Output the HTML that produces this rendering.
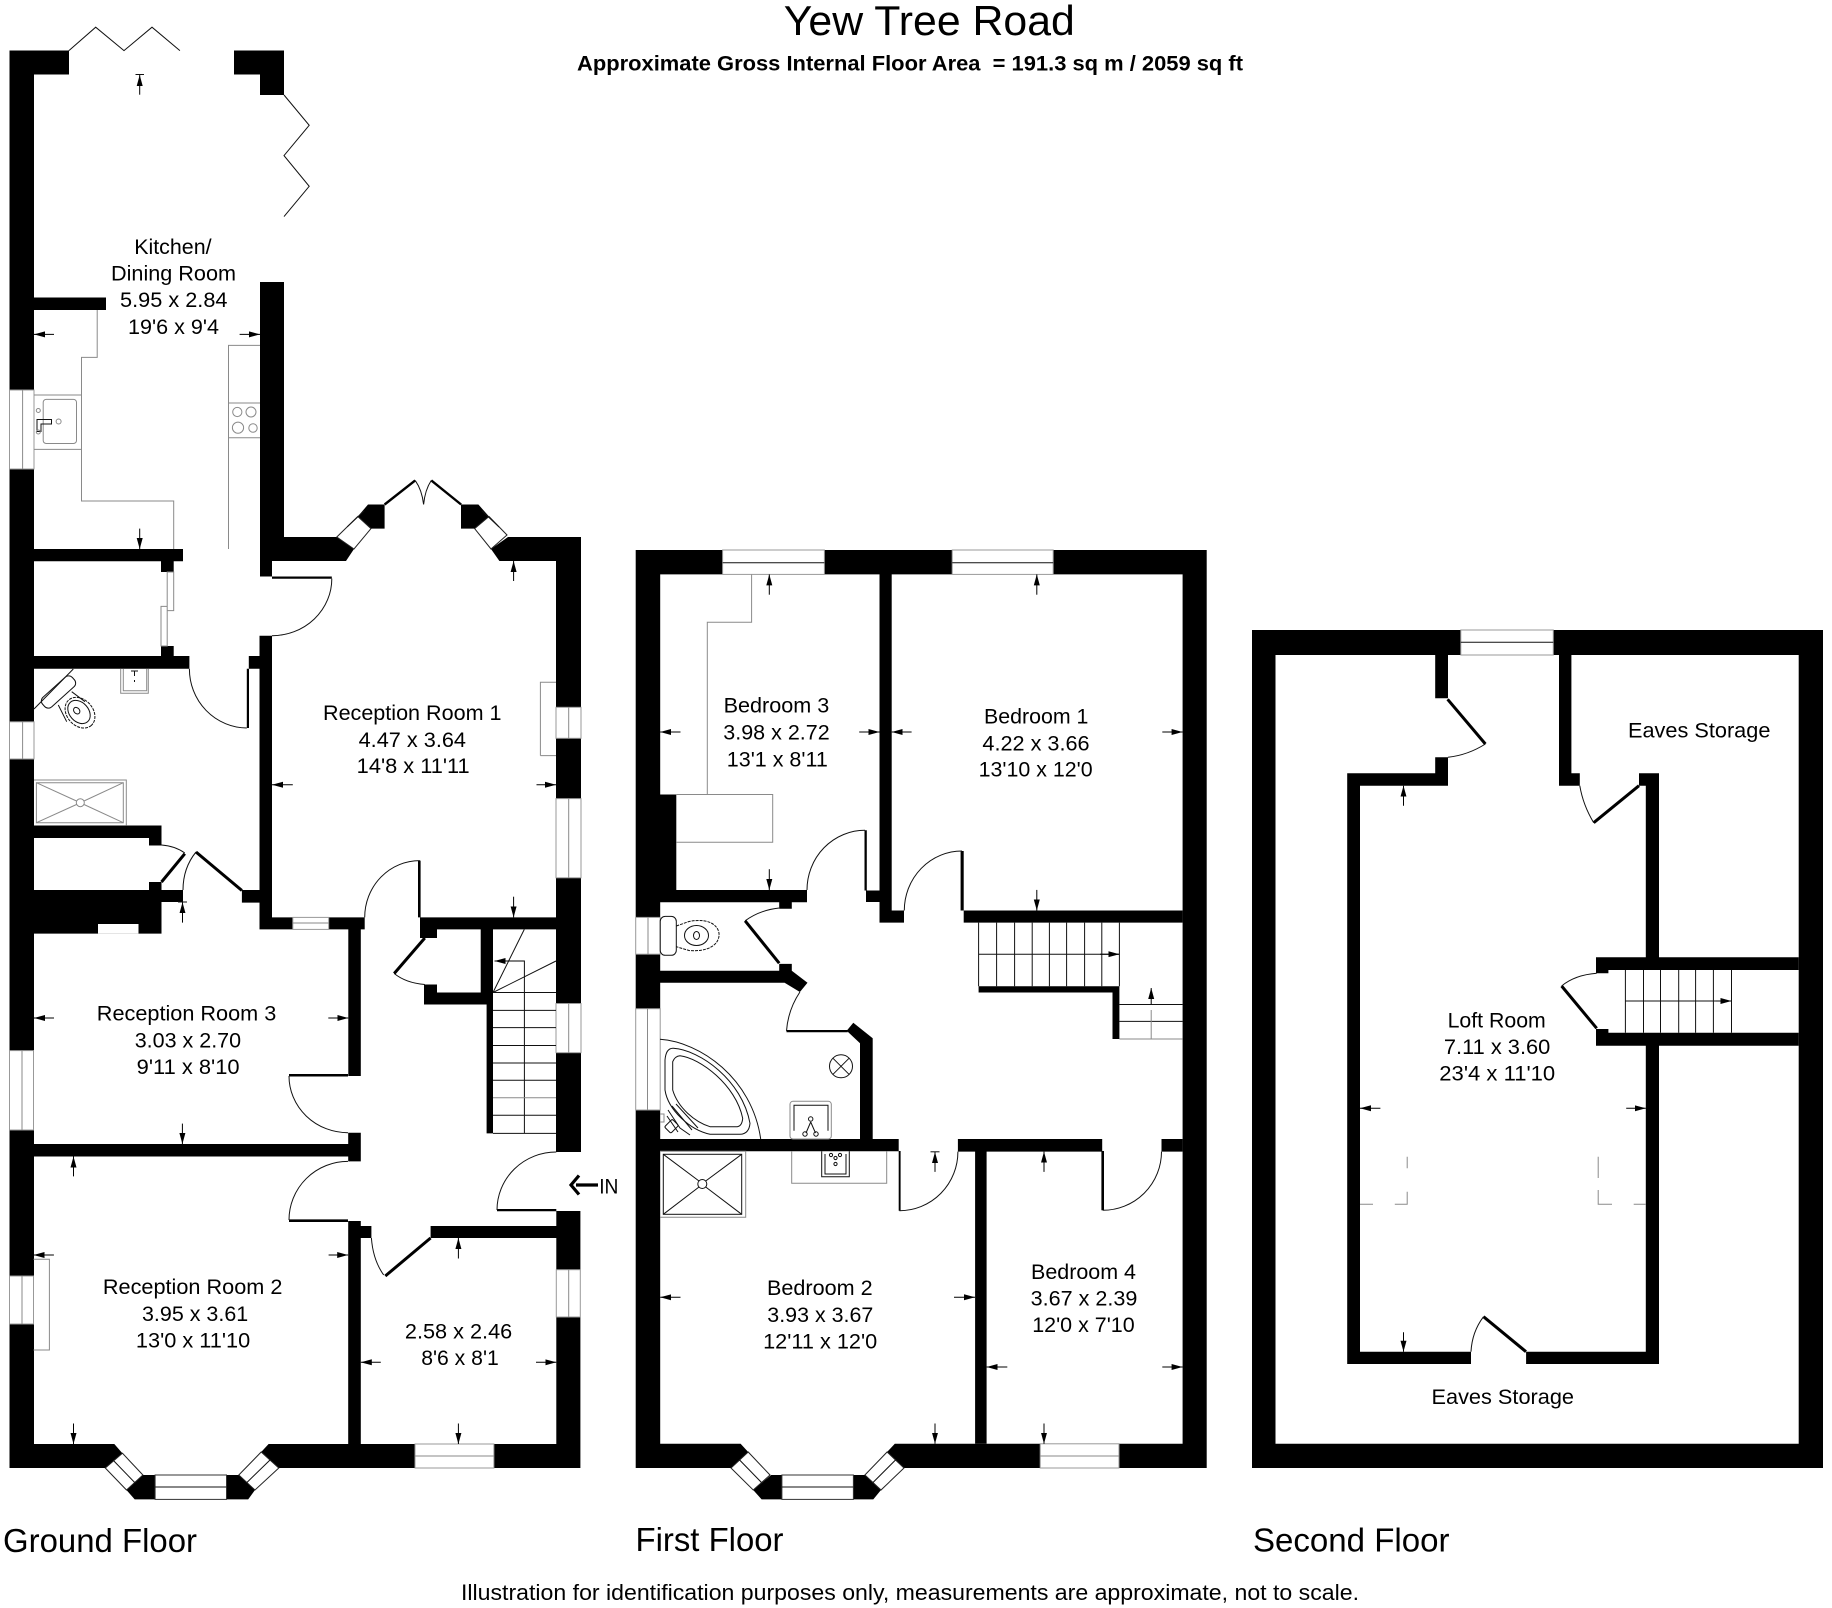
<!DOCTYPE html>
<html><head><meta charset="utf-8"><title>Yew Tree Road</title>
<style>
html,body{margin:0;padding:0;background:#fff}
svg{display:block}
text{font-family:"Liberation Sans",sans-serif;fill:#000;white-space:pre}
.r text{font-size:21.5px}
.t{fill:none;stroke:#111;stroke-width:1}
.g{fill:none;stroke:#8a8a8a;stroke-width:1}
.l{fill:none;stroke:#000;stroke-width:3}
.w{fill:#fff;stroke:#999;stroke-width:1}
.a{stroke:#000;stroke-width:1;fill:none;marker-end:url(#h)}
</style></head><body>
<svg xmlns="http://www.w3.org/2000/svg" width="1832" height="1608" viewBox="0 0 1832 1608">
<defs><marker id="h" markerUnits="userSpaceOnUse" markerWidth="11" markerHeight="7" refX="11" refY="3.5" orient="auto"><path d="M0,0.5L11,3.5L0,6.5Z" fill="#000"/></marker></defs>
<rect width="1832" height="1608" fill="#fff"/>

<!-- GROUND FLOOR WALLS -->
<path fill="#000" d="
M9.5 50.5H69V74.5H34V1444H114.3L122.4 1453.2L105.3 1468H9.5Z
M234 50.5H284V95H260V74.5H234Z
M260 282H284V537H337L354 549L346 561H272V576.5H260Z
M34 297.5H106V310H34Z
M34 549H183V561.3H173.7V572H161V561.3H34Z
M161 646H173.7V656H189.4V668.8H34V656H161Z
M259.5 635.7H272V917.4H292.8V929.4H259.5V902.6H241.9V890H259.5V668.8H248.8V656H259.5Z
M34 825.5H161.5V845.5H149V838H34Z
M149 882H161.5V890H183V902H161.5V933.6H34V890H149Z
M328.7 917.4H364.7V929.4H360.8V1076H348.3V929.4H328.7Z
M420 917.4H556V929.4H493V1133.4H486.6V1004.5H424V984.5H437V992.5H480.7V929.4H437V938H420Z
M33.5 1144H348.2V1132.7H360.8V1161.4H348.2V1156.5H33.5Z
M348.2 1221H360.8V1226H371.4V1238H360.8V1444H415V1468H278.8L261.2 1452L268.6 1444H348.2Z
M430.6 1226H556.3V1238H430.6Z
M493.9 1444H556.3V1211H580.4V1468H493.9Z
M508 537H581V1152H556V561H499.4L491 549Z
"/>
<!-- bay piers ground / top -->
<path fill="#000" d="M142.9 1475H155.1V1499.4H134.7L126.5 1490Z M226.5 1475H238.8L255 1490L248.2 1499.4H226.5Z
M368 504.5H384.6V528.6H371L357.8 516.5Z M461 504.5H478.4L489 516.5L474.6 528.6H461Z"/>
<!-- windows ground -->
<g class="w">
<rect x="9.5" y="390" width="24.5" height="79"/>
<rect x="9.5" y="721.8" width="24.5" height="37.2"/>
<rect x="9.5" y="1050.6" width="24" height="79.4"/>
<rect x="9.5" y="1276" width="24" height="48"/>
<rect x="556" y="707.3" width="25" height="31"/>
<rect x="556" y="798.6" width="25" height="79.2"/>
<rect x="556" y="1003.5" width="25" height="49.2"/>
<rect x="556.3" y="1269.7" width="24" height="47.3"/>
<rect x="292.8" y="917.4" width="35.9" height="12"/>
<rect x="98" y="924" width="40.5" height="9.6" stroke="none"/>
<rect x="415" y="1444" width="78.9" height="24"/>
<rect x="155.1" y="1475" width="71.4" height="24.4" stroke="#333"/>
<path d="M122.4 1453.2L105.3 1468L126.5 1490L142.9 1475Z" stroke="#222"/>
<path d="M261.2 1452L278.8 1468L255 1490L238.8 1475Z" stroke="#222"/>
<path d="M336.8 537L357.8 516.5L371 528.6L354 549Z" stroke="#222"/>
<path d="M489 516.5L507 535L491 549L474.6 528.6Z" stroke="#222"/>
</g>
<g class="g">
<path d="M22.6 390V469M22.6 721.8V759M22 1050.6V1130M22 1276V1324M568.7 707.3V738.3M568.7 798.6V877.8M568.7 1003.5V1052.7M568.7 1269.7V1317M292.8 923H328.7M415 1456H493.9"/>
</g>
<path class="t" d="M155.1 1487H226.5M113.9 1461L134.7 1482.5M270 1460L246.9 1482.5M347.3 526.8L364.4 510.6M481.8 510.6L499 527"/>
<!-- bifolds & french doors -->
<path class="t" d="M68.9 50.6L95.7 27.2L124 50.6L152 27.2L179.9 50.6"/>
<path class="t" d="M284 95L309.2 125.3L284 155.6L309.2 186.3L284 216.6"/>
<path d="M384.6 504.5L415.2 480.4M431.3 480.4L461.1 504.5" fill="none" stroke="#000" stroke-width="2.4"/>
<path class="t" d="M415.2 480.4Q422 490 423.6 504.5M431.3 480.4Q425 490 423.6 504.5"/>
<!-- doors ground -->
<path fill="#000" d="M272 576.5H331.8V578.8H272Z M246.8 668.8H249V728H246.8Z M418 860.6H420.6V917.4H418Z M289 1074H348V1076.5H289Z M289 1219.4H348V1222H289Z M497 1209H556.3V1211.2H497Z"/>
<path class="t" d="M331.8 578.6A59.8 57 0 0 1 272 635.7M246.8 728A58 59 0 0 1 189.4 668.8M419.8 860.6A55 56.8 0 0 0 364.7 917.4M289 1076A59 56.7 0 0 0 348 1132.7M348 1161.4A59 58.6 0 0 0 289 1220M556.3 1152A59.3 58 0 0 0 497 1210M371.4 1238Q373 1260 383.7 1275M161.5 845Q175 846 184.8 853M183 890Q183 868 196 852M394.2 973.5Q406 983 424.8 984.5"/>
<path class="l" d="M385.3 1276L430.6 1238M184.8 853.7L161.5 882M196 852L241.9 890.5M424.8 938L394.2 973.5"/>
<!-- sliding door -->
<path class="g" d="M167.2 572H173.7V610.6H167.2ZM161 606.4H167.2V646H161Z" stroke="#555"/>
<!-- stairs ground -->
<path class="t" d="M493 992.5H556M493 1010.4H556M493 1027.6H556M493 1045.5H556M493 1063H556M493 1080.3H556M493 1115.2H556M493 1133.4H556M524.4 960.5V1133.4M493 992.5L524.3 929.4M493 992.5L556 961"/>
<path class="g" d="M493 1097.7H556"/>
<path class="a" d="M524.3 961H494.5"/>
<!-- kitchen fittings -->
<path class="g" stroke="#555" d="M97.2 310V357.4H81.5V501H173.7V549M34 395H81.5M34 449.4H81.5M228.5 549V345.4H260M228.5 403H260M228.5 437.7H260"/>
<rect class="g" x="43.2" y="399.4" width="33.3" height="44.1" rx="3"/>
<path class="t" d="M37 419.5H51.5V424H41V431.5H37Z"/>
<g class="g"><circle cx="58.6" cy="421.5" r="2.5"/><circle cx="38.3" cy="410.5" r="2"/><circle cx="38.3" cy="432" r="2"/>
<circle cx="237.3" cy="412" r="4.6"/><circle cx="251" cy="412" r="5"/><circle cx="238" cy="427.7" r="5.6"/><circle cx="253" cy="428" r="4.2"/></g>
<!-- shower-room fittings -->
<path class="t" d="M34 709L73.3 669"/>
<rect class="t" x="38.5" y="685.5" width="40" height="13" rx="5" transform="rotate(-42 58.5 692)"/>
<ellipse class="t" cx="80" cy="712.7" rx="17" ry="13" transform="rotate(48 80 712.7)" stroke-dasharray="3 1"/>
<ellipse class="t" cx="79" cy="712" rx="13" ry="9.5" transform="rotate(48 79 712)"/>
<ellipse class="t" cx="76.7" cy="710.7" rx="3.6" ry="2.8" transform="rotate(48 76.7 710.7)"/>
<path class="t" d="M58.3 705L66.7 721.7M71.7 691.7L85 701.7"/>
<path class="g" stroke="#555" d="M120.7 669V693.3H148.3V669M123.3 669V690.7H146.7V669"/>
<path class="t" d="M131 671H138M134.5 671V676M134.5 680V682"/>
<path class="g" stroke="#555" d="M36.4 782.7H123.3V822.7H36.4ZM34 780H126.3V825.7"/>
<path class="g" stroke="#444" d="M36.4 782.7L76.5 801M84 801L123.3 782.7M36.4 822.7L76.5 804.5M84 804.5L123.3 822.7"/>
<circle class="g" stroke="#444" cx="80.3" cy="802.7" r="4"/>
<path class="g" stroke="#555" d="M540.4 755.6V682.2H556M540.4 755.6H556M33.5 1259.2H49.4V1350H33.5"/>

<!-- FIRST FLOOR WALLS -->
<path fill="#000" d="
M635.7 550H1206.7V1468H904L887.1 1452L894.8 1443.8H1182.6V574.4H660.2V1443.8H740.6L748.2 1452L731 1468H635.7Z"/>
<path fill="#000" d="
M771.2 1475H781.9V1499.4H761.6L753.2 1490Z M853.4 1475H864.9L881 1490L873.3 1499.4H853.4Z
M879.5 574H891.7V910.5H904V922.6H879.5V902H866V890.5H879.5Z
M660 794.5H676.3V890H807V902.2H791.8V908.8H779.2V902.2H660Z
M963.7 910.5H1182.6V922.6H963.7Z
M660 970.8H779.2V963.9H791.8V970.8L807.5 982.8L799.9 992L784.6 982.8H660Z
M846.7 1030.7L853.3 1022.7L872.7 1038.3V1139H898.7V1151.3H660V1139H860V1043.3Z
M957.9 1139H1102.2V1151.6H986.6V1443.8H975.1V1151.6H957.9Z
M1161.5 1139H1182.6V1151.6H1161.5Z
M978.6 986.3H1119.4V1039H1112.5V992.5H978.6Z"/>
<g class="w">
<rect x="722.6" y="550" width="101.8" height="24.4"/>
<rect x="952.2" y="550" width="101" height="24.4"/>
<rect x="635.7" y="917.4" width="24.5" height="36.8"/>
<rect x="635.7" y="1008.7" width="24.5" height="101.3"/>
<rect x="1040.2" y="1443.8" width="78.8" height="24.2"/>
<rect x="781.9" y="1475" width="71.5" height="24.4" stroke="#333"/>
<path d="M748.2 1452L731 1468L753.2 1490L770 1475Z" stroke="#222"/>
<path d="M887.1 1452L904 1468L881 1490L864.9 1475Z" stroke="#222"/>
</g>
<path class="t" d="M722.6 562.7H824.4M952.2 562.7H1053.2M781.9 1487H853.4M739.6 1460L761.5 1482.5M895.5 1460L873 1482.5"/>
<path class="g" d="M648 917.4V954.2M647.5 1008.7V1110M1040.2 1456H1119"/>
<!-- first floor fittings -->
<path class="g" stroke="#555" d="M751.6 574.4V622.3H707.3V794.5M676.3 794.5H772.7V842.3H676.3"/>
<path fill="#000" d="M864.5 830.3H866.8V890.5H864.5Z M960.6 851H963.7V910.5H960.6Z M786.5 1030H847.7V1032.2H786.5Z M898.7 1151H900.6V1210.7H898.7Z M1101.4 1151H1104V1210.3H1101.4Z"/>
<path class="t" d="M865 830.3A58 59.7 0 0 0 807 890M962 851A57.7 59.5 0 0 0 904.3 910.5M899.5 1210.7A58.4 59 0 0 0 957.9 1151.6M1102.7 1210.3A58.8 58.7 0 0 0 1161.5 1151.6M745.1 920.8Q760 910 779.2 908M799.9 992Q788 1010 786.5 1031"/>
<path class="l" d="M745.1 920.8L779.2 963.2"/>
<!-- first floor stairs -->
<path class="t" d="M978.6 922.6V986.3M996.6 922.6V986.3M1014.6 922.6V986.3M1032.2 922.6V986.3M1049.4 922.6V986.3M1066.6 922.6V986.3M1084.6 922.6V986.3M1101.8 922.6V986.3M1119.4 922.6V986.3M978.6 954.2H1119.4"/>
<path class="a" d="M1100 954.2H1119.4"/>
<path class="t" d="M1119.4 1004.5H1182.6M1119.4 1021.4H1182.6"/>
<path class="g" d="M1119.4 1039H1182.6M1151.2 1039V1010"/>
<path class="a" d="M1151.2 1004V988"/>
<!-- WC & bath -->
<rect class="t" x="660.2" y="916.4" width="16.1" height="38.9" rx="5"/>
<path class="t" stroke-dasharray="3 1" d="M676.3 926L689 921.5C712 917 720 928 719 936C718 945 708 952 689 950.5L676.3 946.7"/>
<ellipse class="t" cx="696.5" cy="935.5" rx="12" ry="10"/>
<ellipse class="t" cx="696.5" cy="935.5" rx="3" ry="4"/>
<path class="t" d="M660 1039.3C700 1042 752 1078 760.7 1139"/>
<path class="t" d="M665 1060Q666 1048 673.3 1048.3C700 1050 742 1080 750 1123.3Q749 1134 740 1134.3H710C690 1130 668 1110 665 1090Z"/>
<path class="t" d="M672.7 1061.7Q675 1056 680 1055.7C700 1058 736 1085 742.7 1118.3Q742 1126 737.3 1126.7H710C695 1122 678 1108 672.7 1090Z"/>
<path class="t" d="M668 1110L680 1128L690 1135M667 1116L678 1132M672 1106L692 1130M676 1104L698 1128"/>
<rect class="t" x="665.7" y="1122" width="11" height="9" transform="rotate(-45 671 1126)" rx="1.5"/>
<path class="g" d="M660 1114H664V1122H660"/>
<circle class="t" cx="841" cy="1066.3" r="11.5"/><path class="t" d="M833 1058.3L849 1074.3M849 1058.3L833 1074.3"/>
<rect class="g" stroke="#555" x="790" y="1101.3" width="41.3" height="37.7" rx="3"/>
<path class="t" d="M794 1130.7V1105.3H828V1130.7M810.7 1122L806 1133M810.7 1122L815.5 1133"/>
<g class="t"><circle cx="810.7" cy="1119" r="2.2"/><circle cx="805" cy="1134" r="2.2"/><circle cx="816" cy="1134" r="2.2"/></g>
<path class="g" stroke="#555" d="M660 1151.3H745.7V1217.3H660M791.7 1151.3V1183.3H886.7V1151.3"/>
<rect class="t" x="663.3" y="1154.3" width="78.4" height="60"/>
<path class="t" d="M663.3 1154.3L699 1181M705.7 1181L741.7 1154.3M663.3 1214.3L699 1187M705.7 1187L741.7 1214.3"/>
<circle class="t" cx="702.3" cy="1184" r="4.5"/>
<path class="t" d="M821.7 1151.3V1176.7H849.3V1151.3M825 1154V1174H846V1154"/>
<g class="t"><circle cx="835.5" cy="1164" r="1.6"/><circle cx="831" cy="1155" r="1.6"/><circle cx="840" cy="1155" r="1.6"/><circle cx="835.5" cy="1158" r="1.6"/></g>

<!-- SECOND FLOOR WALLS -->
<path fill="#000" fill-rule="evenodd" d="M1252 630H1823V1468H1252Z M1275.5 655V1443.7H1798.7V655Z"/>
<path fill="#000" d="
M1435.2 655H1448V698.3H1435.2Z
M1435.2 757.3H1448V785.7H1360V1351.7H1471V1364H1347.2V773.3H1435.2Z
M1526.1 1351.7H1645.8V1045H1659V1364H1526.1Z
M1639 773.3H1659V957.3H1645.8V785.7H1639Z
M1559 655H1571.4V773.3H1579.8V785.7H1559Z
M1596 957.3H1798.7V970H1608.4V973.3H1596Z
M1596 1029H1608.4V1032.7H1798.7V1045.7H1596Z"/>
<rect class="w" x="1460.8" y="630" width="92.5" height="25"/>
<path class="t" d="M1460.8 642.3H1553.3"/>
<path class="l" d="M1447.6 699.3L1485.4 744M1639 785.7L1593.7 822.7M1596.7 1028.3L1561.6 986M1483.5 1316.7L1526 1351.7"/>
<path class="t" d="M1485.4 744Q1468 755 1448 757.3M1593.7 822.7Q1583 805 1579.8 785.7M1561.6 986Q1575 975 1596.7 973.3M1483.5 1316.7Q1472 1332 1471 1351.7"/>
<path class="t" d="M1625.4 970V1032.7M1643.5 970V1032.7M1660.5 970V1032.7M1678.7 970V1032.7M1695.6 970V1032.7M1713.4 970V1032.7M1731.5 970V1032.7M1625.4 1001H1731.5"/>
<path class="a" d="M1716 1001H1731.5"/>
<path class="g" d="M1407.2 1156.7V1168.3M1407.2 1191.7V1204.3H1394.8M1360 1204.3H1373M1598.2 1156.7V1178M1598.2 1190V1204.3H1612M1633.7 1204.3H1645.8"/>

<!-- DIMENSION ARROWS -->
<path class="a" d="M139.7 94.7V75"/><path class="t" d="M135.5 74.5H144"/>
<path class="a" d="M54 334.4H34"/><path class="a" d="M239.6 334.4H260"/>
<path class="a" d="M139.7 528.6V549"/>
<path class="a" d="M292.8 784.8H272"/><path class="a" d="M536.5 784.8H556"/>
<path class="a" d="M513.6 581V561"/><path class="a" d="M513.6 896.7V917.4"/>
<path class="a" d="M182.5 922.6V902.2"/><path class="t" d="M178 902H187"/>
<path class="a" d="M54 1018H34"/><path class="a" d="M328.3 1018H348.3"/>
<path class="a" d="M182.4 1123.6V1144"/>
<path class="a" d="M73.5 1176.4V1156.5"/>
<path class="a" d="M53.9 1255H33.5"/><path class="a" d="M328.6 1255H348.2"/>
<path class="a" d="M73.5 1423.5V1444"/>
<path class="a" d="M380.8 1362.3H360.8"/><path class="a" d="M536 1362.3H556.3"/>
<path class="a" d="M458.4 1258.5V1238"/><path class="a" d="M458.4 1423.5V1444"/>
<path d="M598 1185H576M579 1175.5L571 1185L579 1194.5" fill="none" stroke="#000" stroke-width="3.2"/>
<path class="a" d="M769.3 594.7V574.4"/><path class="a" d="M680.5 732H660.2"/><path class="a" d="M859.2 732H879.5"/><path class="a" d="M769.3 869.2V890"/>
<path class="a" d="M1036.8 594.7V574.4"/><path class="a" d="M911.6 732H891.7"/><path class="a" d="M1162.3 732H1182.6"/><path class="a" d="M1036.8 889.9V910.5"/>
<path class="a" d="M935 1171.9V1152"/><path class="t" d="M930.5 1151.8H939.5"/>
<path class="a" d="M1044 1171.9V1151.6"/>
<path class="a" d="M680.5 1297.3H660.2"/><path class="a" d="M954 1297.3H975"/><path class="a" d="M935 1423.5V1443.8"/>
<path class="a" d="M1007.3 1367H986.6"/><path class="a" d="M1162.3 1367H1182.6"/><path class="a" d="M1044 1423.5V1443.8"/>
<path class="a" d="M1403.5 805.7V785.7"/><path class="a" d="M1380.4 1108.3H1360"/><path class="a" d="M1626.2 1108.3H1645.8"/><path class="a" d="M1403.5 1332.3V1351.7"/>

<!-- TEXT -->
<text x="783.8" y="35" font-size="42" textLength="291" lengthAdjust="spacingAndGlyphs">Yew Tree Road</text>
<text x="577" y="70.5" font-size="21" font-weight="bold" textLength="666" lengthAdjust="spacingAndGlyphs">Approximate Gross Internal Floor Area  = 191.3 sq m / 2059 sq ft</text>
<g class="r">
<text x="134.2" y="254" textLength="77.4" lengthAdjust="spacingAndGlyphs">Kitchen/</text>
<text x="111" y="280.5" textLength="125" lengthAdjust="spacingAndGlyphs">Dining Room</text>
<text x="120" y="307" textLength="107.5" lengthAdjust="spacingAndGlyphs">5.95 x 2.84</text>
<text x="128" y="334" textLength="91" lengthAdjust="spacingAndGlyphs">19'6 x 9'4</text>
<text x="323" y="720" textLength="178.5" lengthAdjust="spacingAndGlyphs">Reception Room 1</text>
<text x="358.6" y="747" textLength="107.4" lengthAdjust="spacingAndGlyphs">4.47 x 3.64</text>
<text x="356.7" y="773" textLength="113" lengthAdjust="spacingAndGlyphs">14'8 x 11'11</text>
<text x="96.8" y="1020.7" textLength="179.5" lengthAdjust="spacingAndGlyphs">Reception Room 3</text>
<text x="134.7" y="1047.6" textLength="106.4" lengthAdjust="spacingAndGlyphs">3.03 x 2.70</text>
<text x="136.7" y="1074" textLength="102.9" lengthAdjust="spacingAndGlyphs">9'11 x 8'10</text>
<text x="102.9" y="1294.2" textLength="179.5" lengthAdjust="spacingAndGlyphs">Reception Room 2</text>
<text x="142" y="1321" textLength="106.2" lengthAdjust="spacingAndGlyphs">3.95 x 3.61</text>
<text x="135.9" y="1347.3" textLength="114.3" lengthAdjust="spacingAndGlyphs">13'0 x 11'10</text>
<text x="404.9" y="1338.6" textLength="107.3" lengthAdjust="spacingAndGlyphs">2.58 x 2.46</text>
<text x="421.2" y="1365" textLength="77.6" lengthAdjust="spacingAndGlyphs">8'6 x 8'1</text>
<text x="599.2" y="1193.5" textLength="19.2" lengthAdjust="spacingAndGlyphs">IN</text>
<text x="723.6" y="712.5" textLength="105.7" lengthAdjust="spacingAndGlyphs">Bedroom 3</text>
<text x="723.3" y="739.4" textLength="106.4" lengthAdjust="spacingAndGlyphs">3.98 x 2.72</text>
<text x="726.8" y="766.6" textLength="101" lengthAdjust="spacingAndGlyphs">13'1 x 8'11</text>
<text x="984" y="723.5" textLength="104.4" lengthAdjust="spacingAndGlyphs">Bedroom 1</text>
<text x="982.4" y="750.4" textLength="107.2" lengthAdjust="spacingAndGlyphs">4.22 x 3.66</text>
<text x="978.6" y="776.6" textLength="114" lengthAdjust="spacingAndGlyphs">13'10 x 12'0</text>
<text x="767" y="1294.9" textLength="105.6" lengthAdjust="spacingAndGlyphs">Bedroom 2</text>
<text x="767.3" y="1322.1" textLength="106" lengthAdjust="spacingAndGlyphs">3.93 x 3.67</text>
<text x="763.1" y="1348.4" textLength="114.1" lengthAdjust="spacingAndGlyphs">12'11 x 12'0</text>
<text x="1031" y="1278.8" textLength="105" lengthAdjust="spacingAndGlyphs">Bedroom 4</text>
<text x="1030.6" y="1305.4" textLength="106.8" lengthAdjust="spacingAndGlyphs">3.67 x 2.39</text>
<text x="1032.2" y="1332" textLength="102.5" lengthAdjust="spacingAndGlyphs">12'0 x 7'10</text>
<text x="1628" y="737.3" textLength="142.4" lengthAdjust="spacingAndGlyphs">Eaves Storage</text>
<text x="1447.6" y="1027.3" textLength="98.2" lengthAdjust="spacingAndGlyphs">Loft Room</text>
<text x="1443.9" y="1054" textLength="106.4" lengthAdjust="spacingAndGlyphs">7.11 x 3.60</text>
<text x="1439.3" y="1080.7" textLength="115.9" lengthAdjust="spacingAndGlyphs">23'4 x 11'10</text>
<text x="1431.5" y="1404" textLength="142.5" lengthAdjust="spacingAndGlyphs">Eaves Storage</text>
</g>
<text x="3" y="1552" font-size="33" textLength="194" lengthAdjust="spacingAndGlyphs">Ground Floor</text>
<text x="635.5" y="1551" font-size="33" textLength="148" lengthAdjust="spacingAndGlyphs">First Floor</text>
<text x="1253" y="1551.7" font-size="33" textLength="196.5" lengthAdjust="spacingAndGlyphs">Second Floor</text>
<text x="461" y="1600" font-size="22" textLength="898" lengthAdjust="spacingAndGlyphs">Illustration for identification purposes only, measurements are approximate, not to scale.</text>
</svg>
</body></html>
